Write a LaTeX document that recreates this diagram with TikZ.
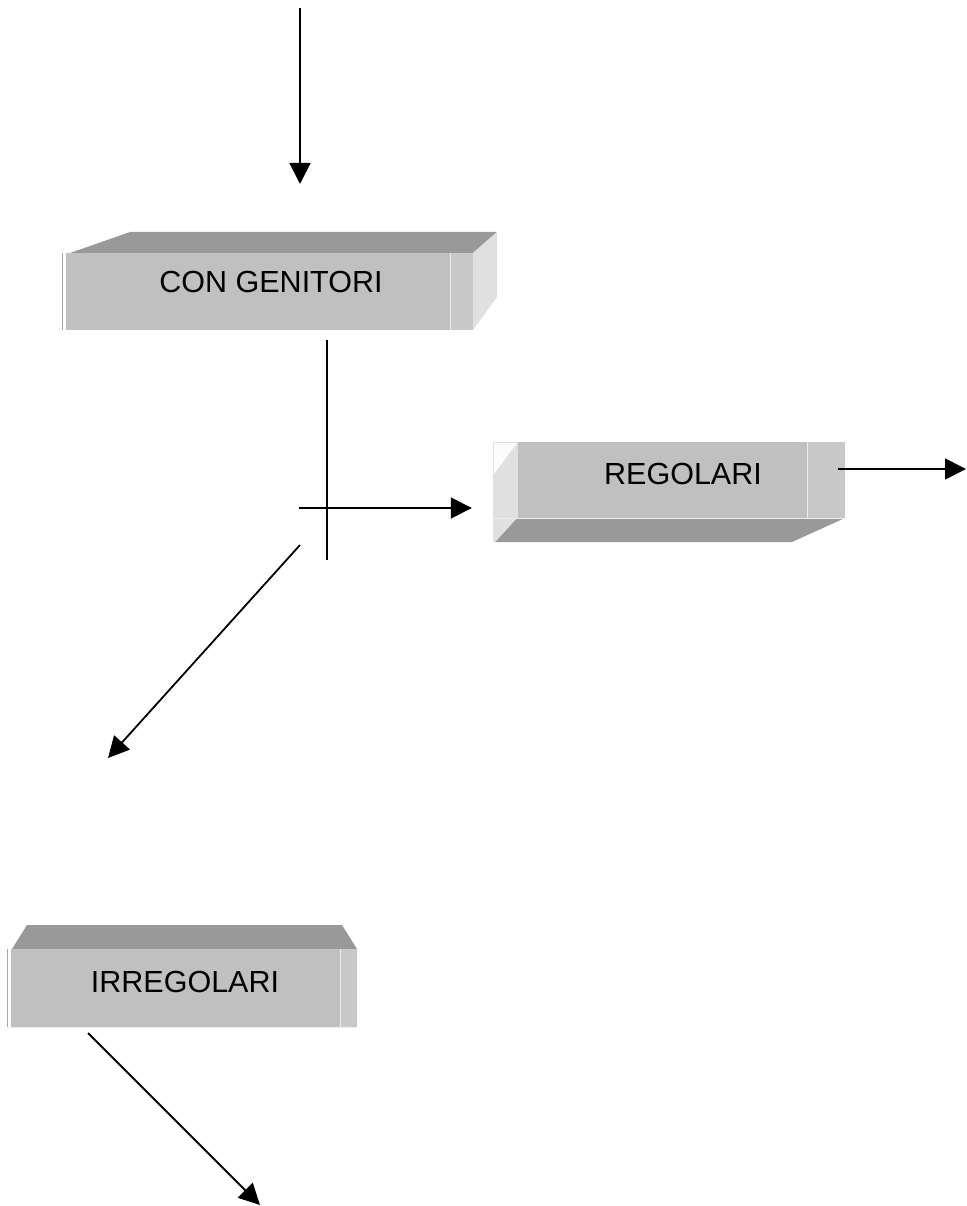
\documentclass[tikz,border=0pt]{standalone}
\usepackage{fontspec}
\setmainfont{Liberation Sans}
\usetikzlibrary{arrows.meta}
\definecolor{frontgray}{HTML}{C0C0C0}
\definecolor{topgray}{HTML}{999999}
\definecolor{sidegray}{HTML}{E0E0E0}
\definecolor{stripgray}{HTML}{C8C8C8}
\definecolor{edgegray}{HTML}{A8A8A8}
\begin{document}
\begin{tikzpicture}[x=1pt,y=-1pt,
  front/.style={fill=frontgray, draw=none, inner sep=0pt},
  lbl/.style={font=\fontsize{30.5}{32}\selectfont, inner sep=0pt},
  conn/.style={line width=1.8pt, -{Triangle[length=21pt,width=21pt]}},
  plain/.style={line width=1.8pt},
  hilite/.style={white, line width=2.5pt},
  edge/.style={edgegray, line width=0.8pt}]
\useasboundingbox (0,0) rectangle (966,1206);

% ---------- CON GENITORI ----------
\fill[topgray] (70,253) -- (130,232) -- (497,232) -- (473,253) -- cycle;
\fill[sidegray] (473,253) -- (497,232) -- (497,297) -- (473,330) -- cycle;
\node[front, minimum width=410pt, minimum height=77pt] (cg) at (268,291.5) {};
\fill[stripgray] (450,253) rectangle (473,330);
\draw[white!70!frontgray, line width=1pt] (450.5,253) -- (450.5,330);
\draw[edge] (62.5,253) -- (62.5,330);
\draw[hilite] (64.5,253) -- (64.5,330);
\node[lbl] (cgt) at (271,282) {CON GENITORI};

% ---------- REGOLARI ----------
\fill[topgray] (517,518) -- (845,518) -- (792,542) -- (495,542) -- cycle;
\fill[sidegray] (493,518) -- (517,518) -- (495,542) -- (493,542) -- cycle;
\node[front, minimum width=352pt, minimum height=76pt] (rg) at (669,480) {};
\fill[sidegray] (493,442) rectangle (518,518);
\fill[white!90!sidegray] (494,443) -- (517,443) -- (494,474) -- cycle;
\fill[stripgray] (807,442) rectangle (845,518);
\draw[white!70!frontgray, line width=1pt] (807.5,442) -- (807.5,518);
\draw[white!70!frontgray, line width=1pt] (493,518.5) -- (845,518.5);
\node[lbl] (rgt) at (683,474) {REGOLARI};

% ---------- IRREGOLARI ----------
\fill[topgray] (12,949) -- (27,925) -- (342,925) -- (357,949) -- cycle;
\node[front, minimum width=349pt, minimum height=78pt] (ir) at (182.5,988) {};
\fill[stripgray] (340,949) rectangle (357,1027);
\draw[white!70!frontgray, line width=1pt] (340.5,949) -- (340.5,1027);
\draw[edge] (7.5,949) -- (7.5,1027);
\draw[hilite] (9.5,949) -- (9.5,1027);
\draw[white!70!frontgray, line width=1pt] (8,1027) -- (357,1027);
\node[lbl] (irt) at (185,982) {IRREGOLARI};

% ---------- connectors ----------
\coordinate (top0) at (300,8);
\coordinate (top1) at (300,184);
\draw[conn] (top0) -- (top1);

\coordinate (v0) at (327,340);
\coordinate (v1) at (327,560);
\draw[plain] (v0) -- (v1);

\coordinate (h0) at (299,508);
\draw[conn, shorten >=21pt] (h0) -- (h0 -| rg.west);

\coordinate (d0) at (300,545);
\coordinate (d1) at (108,758);
\draw[conn] (d0) -- (d1);

\coordinate (r0) at (838,469);
\coordinate (r1) at (966,469);
\draw[conn] (r0) -- (r1);

\coordinate (i0) at (88,1033);
\coordinate (i1) at (260,1205);
\draw[conn] (i0) -- (i1);
\end{tikzpicture}
\end{document}
